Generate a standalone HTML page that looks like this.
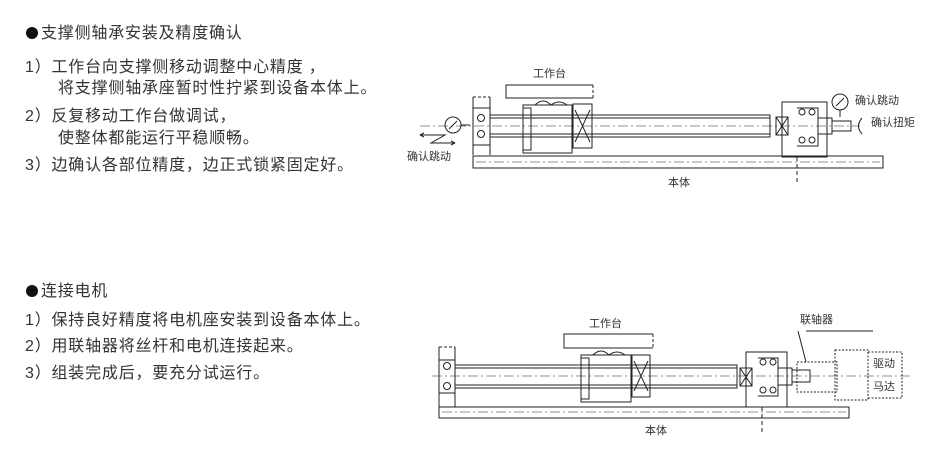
<!DOCTYPE html>
<html><head><meta charset="utf-8"><style>
body{margin:0;width:945px;height:465px;background:#fff;position:relative;overflow:hidden;font-family:"Liberation Sans","Noto Sans CJK SC",sans-serif;color:#333}
.t{position:absolute;font-size:16px;letter-spacing:0.8px;white-space:nowrap;line-height:20px}
.b{display:inline-block;width:12px;height:12px;border-radius:50%;background:#111;margin-right:3px;vertical-align:-1px}
svg{position:absolute;left:0;top:0}
svg text{font-family:"Liberation Sans","Noto Sans CJK SC",sans-serif;font-size:11px;fill:#333;stroke:none}
</style></head><body>
<div class="t" style="left:26px;top:24px"><span class="b"></span>支撑侧轴承安装及精度确认</div>
<div class="t" style="left:25px;top:58px">1）工作台向支撑侧移动调整中心精度 ，</div>
<div class="t" style="left:58px;top:79px">将支撑侧轴承座暂时性拧紧到设备本体上。</div>
<div class="t" style="left:25px;top:107px">2）反复移动工作台做调试，</div>
<div class="t" style="left:58px;top:129px">使整体都能运行平稳顺畅。</div>
<div class="t" style="left:25px;top:156px">3）边确认各部位精度，边正式锁紧固定好。</div>
<div class="t" style="left:26px;top:282px"><span class="b"></span>连接电机</div>
<div class="t" style="left:25px;top:311px">1）保持良好精度将电机座安装到设备本体上。</div>
<div class="t" style="left:25px;top:337px">2）用联轴器将丝杆和电机连接起来。</div>
<div class="t" style="left:25px;top:364px">3）组装完成后，要充分试运行。</div>
<svg width="945" height="465" fill="none" stroke="#222" stroke-width="1">
<!-- diagram 1 -->
<text x="533" y="77">工作台</text>
<path d="M593 85H506V98H593"/><path d="M593 85V98" stroke-dasharray="3 2"/>
<rect x="473" y="156" width="410" height="12"/>
<path d="M476 162H880" stroke-dasharray="10 3 2 3" stroke-width=".6"/>
<text x="668" y="186">本体</text>
<path d="M473 97V155M490 97V155M473 108H490M473 145H490"/><path d="M473 97H490" stroke-dasharray="3 2"/>
<circle cx="481" cy="118" r="3.5"/><circle cx="481" cy="134" r="3.5"/>
<path d="M490 115H770V137H490M490 118H770M490 134H770"/>
<path d="M420 126H860" stroke-dasharray="10 3 2 3" stroke-width=".6"/>
<rect x="523" y="105" width="49" height="48"/><rect x="523" y="108" width="8" height="42"/>
<path d="M535 105q8-8 16 0q8-6 16 0"/>
<rect x="573" y="104" width="19" height="44"/><path d="M575 110L590 142M590 110L575 142"/>
<rect x="776" y="117" width="12" height="18"/><path d="M776 117L788 135M788 117L776 135"/>
<path d="M782 102H827V157H782ZM797 108H818V146H797"/>
<circle cx="802" cy="112" r="3"/><circle cx="812" cy="112" r="3"/><circle cx="802" cy="140" r="3"/><circle cx="812" cy="140" r="3"/>
<path d="M818 118H832V134H818M832 121H851V131H832"/>
<path d="M797 157V182" stroke-dasharray="4 3"/>
<circle cx="453" cy="125" r="8"/><path d="M449 129L457 121"/><path d="M461 125H470"/>
<path d="M420 135H445L431 143H455M420 135l4-2M420 135l4 2M455 143l-4-2M455 143l-4 2"/>
<text x="407" y="160">确认跳动</text>
<circle cx="840" cy="102" r="8"/><path d="M836 106L844 98M840 110V117"/>
<text x="855" y="104">确认跳动</text>
<path d="M862 118q-7 8 0 16"/>
<text x="871" y="126">确认扭矩</text>
<!-- diagram 2 -->
<text x="589" y="327">工作台</text>
<path d="M653 334H564V348H653"/><path d="M653 334V348" stroke-dasharray="3 2"/>
<rect x="439" y="407" width="410" height="11"/>
<path d="M442 412H846" stroke-dasharray="10 3 2 3" stroke-width=".6"/>
<text x="645" y="434">本体</text>
<path d="M439 347V407M455 347V407M439 360H455M439 393H455"/><path d="M439 347H455" stroke-dasharray="3 2"/>
<circle cx="447" cy="366" r="3.5"/><circle cx="447" cy="386" r="3.5"/>
<path d="M455 365H737V388H455M455 368H737M455 385H737"/>
<path d="M432 376H910" stroke-dasharray="10 3 2 3" stroke-width=".6"/>
<rect x="581" y="355" width="50" height="47"/><rect x="581" y="358" width="8" height="41"/>
<path d="M593 355q8-8 16 0q8-6 16 0"/>
<rect x="632" y="355" width="18" height="42"/><path d="M634 361L648 391M648 361L634 391"/>
<rect x="740" y="368" width="12" height="18"/><path d="M740 368L752 386M752 368L740 386"/>
<path d="M746 352H787V407H746ZM758 358H778V396H758"/>
<circle cx="763" cy="362" r="3"/><circle cx="773" cy="362" r="3"/><circle cx="763" cy="390" r="3"/><circle cx="773" cy="390" r="3"/>
<path d="M778 368H792V385H778M792 370H810V382H792"/>
<path d="M762 407V432" stroke-dasharray="4 3"/>
<path d="M797 362H837V392H797Z" stroke-dasharray="2 1.5"/>
<path d="M835 350H868V400H835ZM868 352H902V398H868" stroke-dasharray="2 1.5"/>
<path d="M798 331L806 362M806 331H873"/>
<text x="800" y="323">联轴器</text>
<text x="873" y="367">驱动</text>
<text x="873" y="390">马达</text>
</svg>
</body></html>
